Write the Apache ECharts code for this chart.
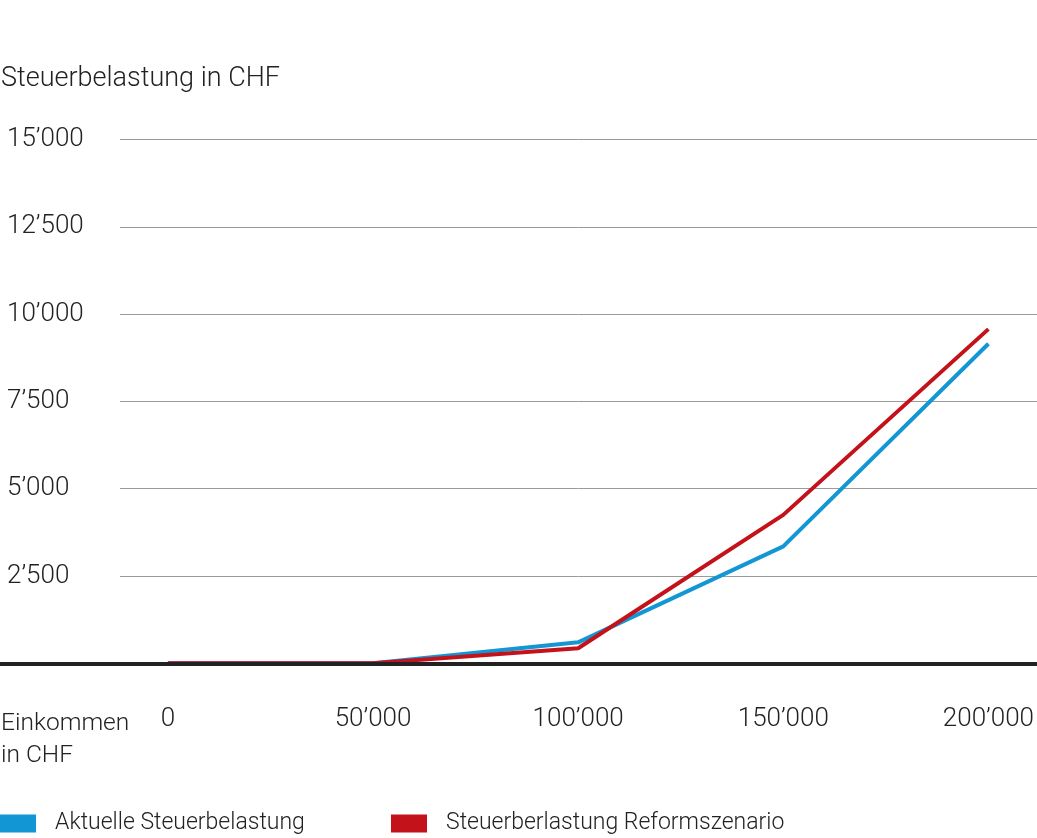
<!DOCTYPE html>
<html>
<head>
<meta charset="utf-8">
<script src="https://cdn.jsdelivr.net/npm/echarts@6/dist/echarts.min.js"></script>
<style>
html,body{margin:0;padding:0;background:#fff;}
#chart{width:1037px;height:838px;}
</style>
</head>
<body>
<div id="chart"></div>
<script>
const incomes = [0, 50000, 100000, 150000, 200000];
const currentTax = [0, 0, 600, 3350, 9150];
const reformTax = [0, 0, 430, 4250, 9570];
const xTickValues = [0, 50000, 100000, 150000, 200000];
const seriesNames = ['Aktuelle Steuerbelastung', 'Steuerberlastung Reformszenario'];
const yTitle = 'Steuerbelastung in CHF';
const xTitle = 'Einkommen\nin CHF';

const FONT = 'Roboto';
const FW = 300;
function fmt(v) {
  return String(v).replace(/\B(?=(\d{3})+(?!\d))/g, '\u2019');
}
const chart = echarts.init(document.getElementById('chart'));
const gTop = 139.5, gBottom = 174.7;
chart.setOption({
  animation: false,
  backgroundColor: '#fff',
  textStyle: { fontFamily: FONT, fontWeight: FW },
  title: [
    { text: yTitle, left: -4, top: 61, textStyle: { fontFamily: FONT, fontWeight: FW, fontSize: 27, color: '#222' } },
    { text: xTitle, left: -4, top: 703, textStyle: { fontFamily: FONT, fontWeight: FW, fontSize: 24.5, color: '#222', lineHeight: 32 } }
  ],
  legend: [
    { data: [seriesNames[0]], left: 0, top: 812, padding: 0, itemWidth: 36, itemHeight: 18, icon: 'rect',
      textStyle: { fontFamily: FONT, fontWeight: FW, fontSize: 23, color: '#222', padding: [0, 0, 0, 14] } },
    { data: [seriesNames[1]], left: 391, top: 812, padding: 0, itemWidth: 36, itemHeight: 18, icon: 'rect',
      textStyle: { fontFamily: FONT, fontWeight: FW, fontSize: 23, color: '#222', padding: [0, 0, 0, 14] } }
  ],
  grid: [
    { left: 0, right: 0, top: gTop, bottom: gBottom },
    { left: 120, right: 0, top: gTop, bottom: gBottom }
  ],
  xAxis: [
    { type: 'value', gridIndex: 0, min: -40926, max: 211693, z: 5,
      axisLine: { show: true, onZero: false, lineStyle: { color: '#222', width: 4 } },
      axisTick: { show: false }, splitLine: { show: false },
      axisLabel: { customValues: xTickValues, formatter: fmt, margin: 43, fontFamily: FONT, fontWeight: FW, fontSize: 26, color: '#222' } },
    { type: 'value', gridIndex: 1, min: 0, max: 1, show: false }
  ],
  yAxis: [
    { type: 'value', gridIndex: 0, min: 0, max: 15000, show: false },
    { type: 'value', gridIndex: 1, min: 0, max: 15000, interval: 2500,
      axisLine: { show: false }, axisTick: { show: false },
      splitLine: { show: true, lineStyle: { color: '#9a9a9a', width: 1 } },
      axisLabel: { margin: 113, align: 'left', fontFamily: FONT, fontWeight: FW, fontSize: 26, color: '#222',
        formatter: v => v === 0 ? '' : fmt(v) } }
  ],
  series: [
    { name: seriesNames[0], type: 'line', xAxisIndex: 0, yAxisIndex: 0, showSymbol: false, symbol: 'none',
      color: '#1296d4', lineStyle: { width: 4, color: '#1296d4' },
      data: incomes.map((x, i) => [x, currentTax[i]]) },
    { name: seriesNames[1], type: 'line', xAxisIndex: 0, yAxisIndex: 0, showSymbol: false, symbol: 'none',
      color: '#c4121a', lineStyle: { width: 4, color: '#c4121a' },
      data: incomes.map((x, i) => [x, reformTax[i]]) }
  ]
});
</script>
</body>
</html>
